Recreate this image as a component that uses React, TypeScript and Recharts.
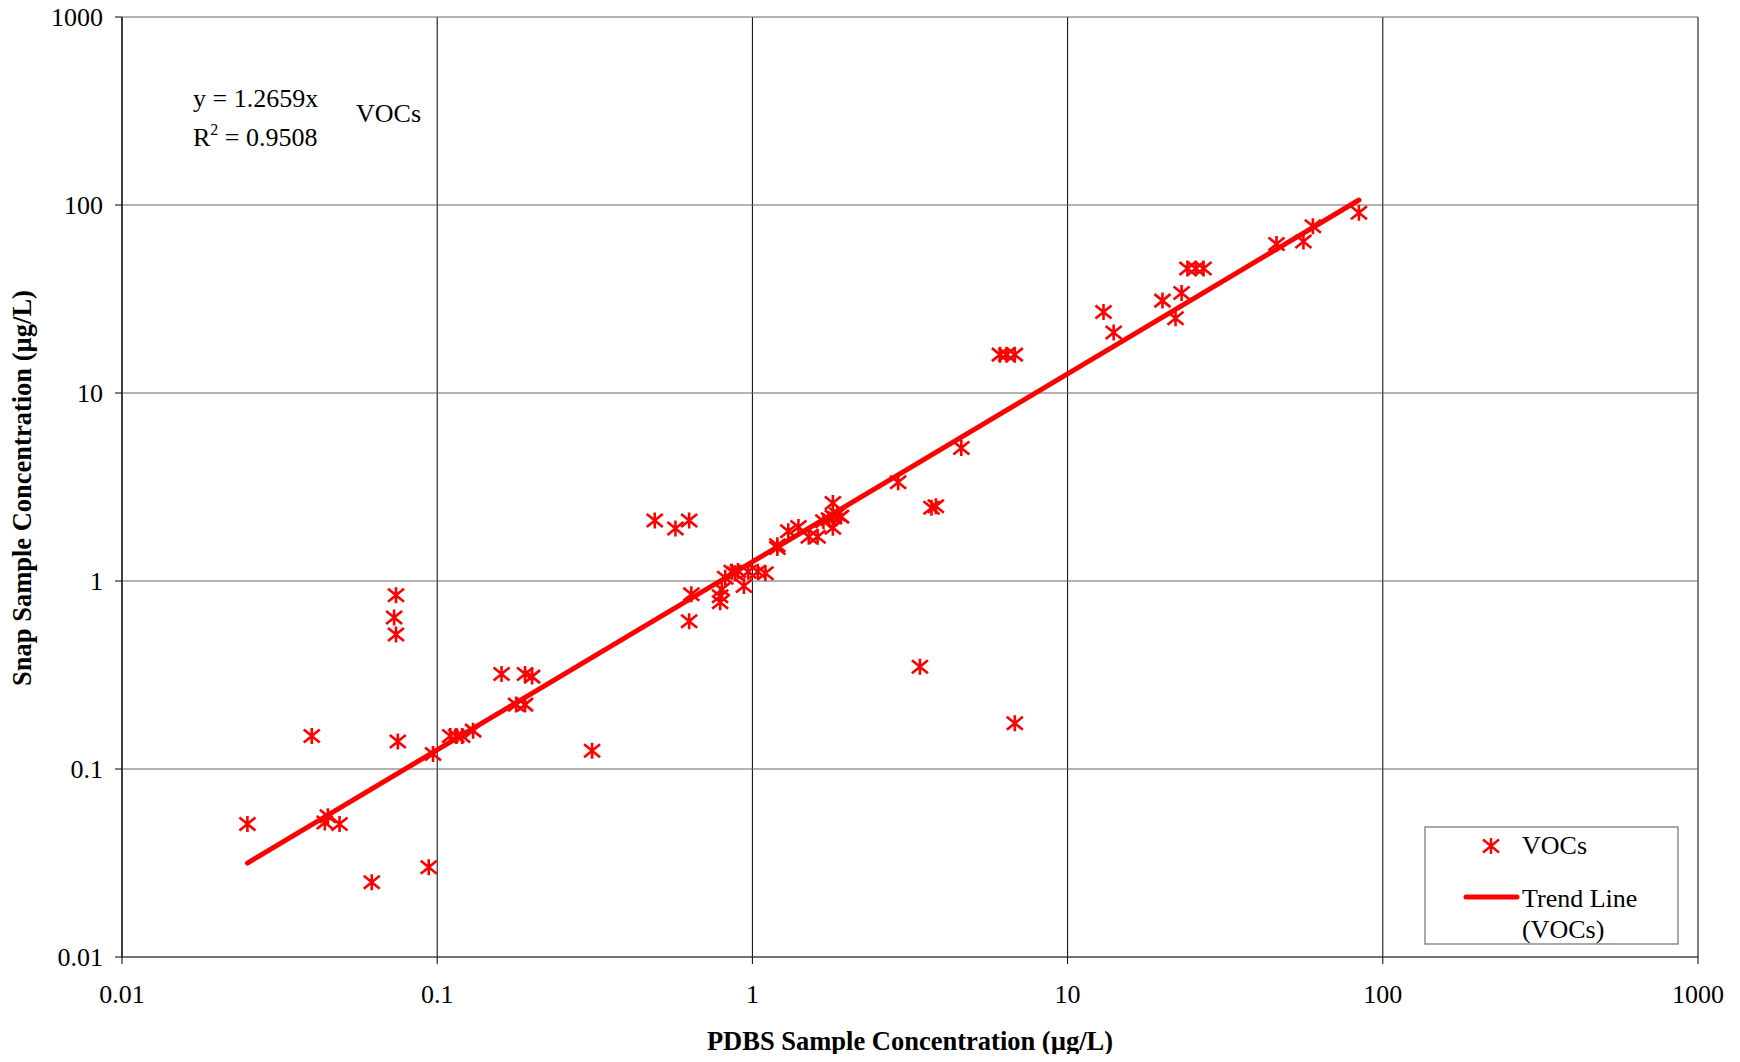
import React from 'react';
import { ScatterChart, Scatter, XAxis, YAxis, CartesianGrid, Customized } from 'recharts';

const FONT = '"Liberation Serif", "Times New Roman", serif';

// PDBS (x) and Snap (y) sample concentrations, µg/L
const pdbsValues = [
  0.025, 0.04, 0.044, 0.045, 0.049, 0.062, 0.074, 0.073, 0.074, 0.075,
  0.094, 0.097, 0.11, 0.115, 0.12, 0.13, 0.16, 0.178, 0.19, 0.19,
  0.2, 0.31, 0.49, 0.57, 0.63, 0.64, 0.63, 0.79, 0.79, 0.8,
  0.82, 0.86, 0.88, 0.9, 0.94, 0.97, 1.04, 1.1, 1.2, 1.2,
  1.3, 1.4, 1.51, 1.61, 1.68, 1.75, 1.8, 1.8, 1.8, 1.86,
  1.91, 2.9, 3.4, 3.7, 3.82, 4.6, 6.8, 6.1, 6.4, 6.8,
  13, 14, 20, 22, 23, 24, 25.5, 27, 46, 56,
  60, 84,
];
const snapValues = [
  0.051, 0.15, 0.052, 0.056, 0.051, 0.025, 0.84, 0.64, 0.52, 0.14,
  0.03, 0.12, 0.15, 0.15, 0.15, 0.16, 0.32, 0.22, 0.22, 0.32,
  0.31, 0.125, 2.1, 1.9, 2.1, 0.85, 0.61, 0.83, 0.77, 0.9,
  1.04, 1.12, 1.1, 1.13, 0.94, 1.12, 1.12, 1.1, 1.55, 1.5,
  1.84, 1.94, 1.72, 1.72, 2.08, 2.13, 2.6, 1.92, 2.2, 2.26,
  2.2, 3.35, 0.35, 2.45, 2.5, 5.1, 0.175, 16, 16, 16,
  27, 21, 31, 25, 34, 46, 46, 46, 62, 64,
  77, 91,
];

// Trend line y = 1.2659x endpoints
const trendX = [0.025, 84];
const trendY = [0.0316, 106.3];

const xTicks = [0.01, 0.1, 1, 10, 100, 1000];
const yTicks = [0.01, 0.1, 1, 10, 100, 1000];

const xTitle = 'PDBS Sample Concentration (µg/L)';
const yTitle = 'Snap Sample Concentration (µg/L)';
const eqLine1 = 'y = 1.2659x';
const eqR2 = ' = 0.9508';
const seriesName = 'VOCs';
const trendName1 = 'Trend Line';
const trendName2 = '(VOCs)';

const points = pdbsValues.map((x, i) => ({ x, y: snapValues[i] }));
const trend = trendX.map((x, i) => ({ x, y: trendY[i] }));

const RED = '#ff0000';

const starPath = (cx: number, cy: number) =>
  `M${cx},${cy - 8}L${cx},${cy + 8}M${cx - 8},${cy - 6.5}L${cx + 8},${cy + 6.5}M${cx - 8},${cy + 6.5}L${cx + 8},${cy - 6.5}`;

const Asterisk = (props: any) => {
  const { cx, cy } = props;
  if (cx == null || cy == null) return <g />;
  return <path d={starPath(cx, cy)} stroke={RED} strokeWidth={2.6} fill="none" />;
};

const NoShape = () => <g />;

const Overlay = () => {
  const lx = 1417, ly = 819, lw = 253, lh = 117;
  return (
    <g fontFamily={FONT} fill="#000">
      <text x={185} y={99} fontSize={26}>{eqLine1}</text>
      <text x={185} y={138} fontSize={26}>
        R<tspan dy={-11} fontSize={16}>2</tspan>
        <tspan dy={11}>{eqR2}</tspan>
      </text>
      <text x={348} y={114} fontSize={26}>{seriesName}</text>
      <text x={902} y={1042} textAnchor="middle" fontWeight="bold" fontSize={26.5}>{xTitle}</text>
      <text transform="translate(23,480) rotate(-90)" textAnchor="middle" fontWeight="bold" fontSize={26.5}>{yTitle}</text>
      <rect x={lx} y={ly} width={lw} height={lh} fill="#fff" stroke="#707070" strokeWidth={1.2} />
      <path d={starPath(1483, 838)} stroke={RED} strokeWidth={2.4} fill="none" />
      <text x={1514} y={846} fontSize={26}>{seriesName}</text>
      <line x1={1458} y1={889} x2={1509} y2={889} stroke={RED} strokeWidth={5} strokeLinecap="round" />
      <text x={1514} y={899} fontSize={26}>{trendName1}</text>
      <text x={1514} y={930} fontSize={26}>{trendName2}</text>
    </g>
  );
};

export default function App() {
  return (
    <div>
      <style>{'.recharts-surface{overflow:visible}'}</style>
      <ScatterChart
        width={1724}
        height={1046}
        margin={{ top: 9, right: 34, bottom: 37, left: 14 }}
      >
        <CartesianGrid horizontal={false} stroke="#000" strokeWidth={1} />
        <CartesianGrid vertical={false} stroke="#666" strokeWidth={1} />
        <XAxis
          type="number"
          dataKey="x"
          scale="log"
          domain={[0.01, 1000]}
          ticks={xTicks}
          interval={0}
          allowDataOverflow
          height={60}
          tickSize={7}
          tickMargin={21}
          axisLine={{ stroke: '#333' }}
          tickLine={{ stroke: '#000' }}
          tick={{ fill: '#000', fontSize: 26, fontFamily: FONT }}
        />
        <YAxis
          type="number"
          dataKey="y"
          scale="log"
          domain={[0.01, 1000]}
          ticks={yTicks}
          interval={0}
          allowDataOverflow
          width={100}
          tickSize={7}
          tickMargin={12}
          axisLine={{ stroke: '#000' }}
          tickLine={{ stroke: '#000' }}
          tick={{ fill: '#000', fontSize: 26, fontFamily: FONT }}
        />
        <Scatter data={points} shape={Asterisk} isAnimationActive={false} />
        <Scatter
          data={trend}
          line={{ stroke: RED, strokeWidth: 5, strokeLinecap: 'round' }}
          shape={NoShape}
          isAnimationActive={false}
        />
        <Customized component={Overlay} />
      </ScatterChart>
    </div>
  );
}
